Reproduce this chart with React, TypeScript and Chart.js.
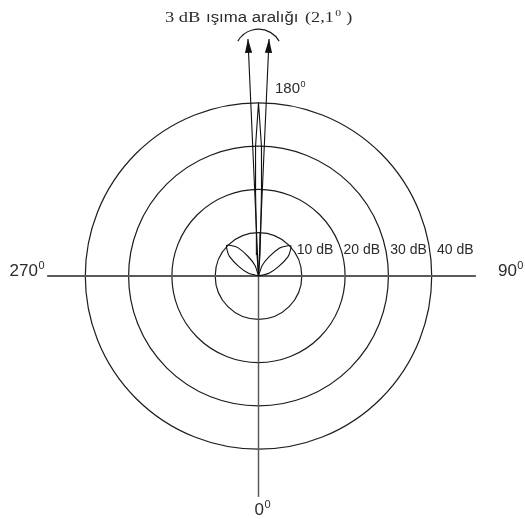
import React, { useEffect, useRef } from "react";
import { Chart, registerables } from "chart.js";

Chart.register(...registerables);

// Gain rings of the polar grid (dB) and their labels
const ringValues = [10, 20, 30, 40];
const ringLabels = ["10 dB", "20 dB", "30 dB", "40 dB"];

// Bearings marked round the plot (degrees)
const bearingValues = [0, 90, 180, 270];
const bearingLabels = ["0", "90", "180", "270"];

// Main lobe outline: bearing (deg) and level (dB)
const mainLobeAngles = [180, 184, 182.8, 182, 181.3, 180, 178.7, 178, 177.2, 176, 180];
const mainLobeDb = [0, 5, 10, 20, 30, 40, 30, 20, 10, 5, 0];

// Side lobes either side of the beam
const rightLobeAngles = [93, 105, 115, 123, 129, 133, 137, 143, 151, 161, 173];
const rightLobeDb = [0, 2.5, 5.1, 8.1, 9.5, 10.2, 9.5, 8.1, 5.1, 2.5, 0];
const leftLobeAngles = [186, 198, 208, 216, 222, 226, 230, 236, 244, 254, 266];
const leftLobeDb = [0, 2.5, 5.1, 8.1, 9.5, 10.2, 9.5, 8.1, 5.1, 2.5, 0];

// Half-power beam edges (deg) drawn as arrows, and how far they reach (dB units)
const beamEdgeAngles = [177.45, 182.55];
const beamArrowReach = 54.8;

// Caption over the beam
const captionLead = "3 dB";
const captionWords = "ışıma aralığı";
const captionValue = "(2,1";
const captionTail = " )";

const W = 525;
const H = 519;
const PX_PER_DB = 4.33;
const CX = 258.5;
const CY = 276;

const toXY = (angle: number, db: number) => {
  const t = (angle * Math.PI) / 180;
  return { x: db * Math.sin(t), y: -db * Math.cos(t) };
};

const outline = (angles: number[], dbs: number[]) =>
  angles.map((a, i) => toXY(a, dbs[i]));

const TEXT = "#2b2b2b";
const SANS = '"Liberation Sans", Arial, sans-serif';
const SERIF = '"Liberation Serif", "Times New Roman", serif';

function drawDegree(
  ctx: CanvasRenderingContext2D,
  text: string,
  x: number,
  baseline: number,
  size: number,
  align: "left" | "right"
) {
  ctx.font = `${size}px ${SANS}`;
  const mainW = ctx.measureText(text).width;
  const supSize = Math.round(size * 0.62);
  ctx.font = `${supSize}px ${SANS}`;
  const supW = ctx.measureText("0").width;
  const start = align === "left" ? x : x - mainW - supW - 1;
  ctx.textAlign = "left";
  ctx.textBaseline = "alphabetic";
  ctx.font = `${size}px ${SANS}`;
  ctx.fillText(text, start, baseline);
  ctx.font = `${supSize}px ${SANS}`;
  ctx.fillText("0", start + mainW + 0.5, baseline - size * 0.4);
}

function drawStretched(
  ctx: CanvasRenderingContext2D,
  text: string,
  x: number,
  baseline: number,
  font: string,
  sx: number
) {
  ctx.save();
  ctx.translate(x, baseline);
  ctx.scale(sx, 1);
  ctx.font = font;
  ctx.textAlign = "left";
  ctx.textBaseline = "alphabetic";
  ctx.fillText(text, 0, 0);
  const w = ctx.measureText(text).width * sx;
  ctx.restore();
  return w;
}

const polarFrame = {
  id: "polarFrame",
  beforeDatasetsDraw(chart: any) {
    const { ctx, scales } = chart;
    const xs = scales.x;
    const ys = scales.y;
    const ox = xs.getPixelForValue(0);
    const oy = ys.getPixelForValue(0);
    const len = (v: number) => xs.getPixelForValue(v) - ox;

    ctx.save();
    // gain rings
    ctx.strokeStyle = "#1c1c1c";
    ctx.lineWidth = 1.2;
    ringValues.forEach((v) => {
      ctx.beginPath();
      ctx.arc(ox, oy, len(v), 0, Math.PI * 2);
      ctx.stroke();
    });
    // 270-90 axis
    ctx.strokeStyle = "#5a5a5a";
    ctx.lineWidth = 2;
    ctx.beginPath();
    ctx.moveTo(xs.getPixelForValue(-48.8), oy);
    ctx.lineTo(xs.getPixelForValue(50.2), oy);
    ctx.stroke();
    // towards 0
    ctx.lineWidth = 1.5;
    ctx.beginPath();
    ctx.moveTo(ox, oy);
    ctx.lineTo(ox, ys.getPixelForValue(-51));
    ctx.stroke();
    ctx.restore();
  },
  afterDatasetsDraw(chart: any) {
    const { ctx, scales } = chart;
    const xs = scales.x;
    const ys = scales.y;
    const ox = xs.getPixelForValue(0);
    const oy = ys.getPixelForValue(0);
    const len = (v: number) => xs.getPixelForValue(v) - ox;

    ctx.save();
    // arrowheads on the beam-edge lines
    ctx.fillStyle = "#111";
    chart.data.datasets.forEach((ds: any, i: number) => {
      if (!ds.arrow) return;
      const pts = chart.getDatasetMeta(i).data;
      const a = pts[0];
      const b = pts[pts.length - 1];
      const ang = Math.atan2(b.y - a.y, b.x - a.x);
      const L = 14;
      const hw = 3.6;
      const bx = b.x - Math.cos(ang) * L;
      const by = b.y - Math.sin(ang) * L;
      ctx.beginPath();
      ctx.moveTo(b.x, b.y);
      ctx.lineTo(bx - Math.sin(ang) * hw, by + Math.cos(ang) * hw);
      ctx.lineTo(bx + Math.sin(ang) * hw, by - Math.cos(ang) * hw);
      ctx.closePath();
      ctx.fill();
    });

    // spread arc over the arrows
    ctx.strokeStyle = "#1c1c1c";
    ctx.lineWidth = 1.2;
    ctx.beginPath();
    ctx.arc(ox, ys.getPixelForValue(51.5), len(5.5), (7 * Math.PI) / 6, (11 * Math.PI) / 6);
    ctx.stroke();

    // ring labels
    ctx.fillStyle = TEXT;
    ctx.font = `14px ${SANS}`;
    ctx.textAlign = "left";
    ctx.textBaseline = "middle";
    ringValues.forEach((v, i) => {
      ctx.fillText(ringLabels[i], ox + len(v) * 1.08 - 8.5, ys.getPixelForValue(6));
    });

    // bearing labels
    bearingValues.forEach((b, i) => {
      const t = bearingLabels[i];
      if (b === 270) drawDegree(ctx, t, xs.getPixelForValue(-49.3), oy, 17, "right");
      if (b === 90) drawDegree(ctx, t, xs.getPixelForValue(55.3), oy, 17, "left");
      if (b === 180) drawDegree(ctx, t, ox + 16.5, ys.getPixelForValue(42.2), 15, "left");
      if (b === 0) drawDegree(ctx, t, ox - 4, ys.getPixelForValue(-55.2), 17, "left");
    });

    // caption
    const base = 22;
    drawStretched(ctx, captionLead, 165, base, `14px ${SERIF}`, 1.32);
    drawStretched(ctx, captionWords, 206, base, `14px ${SANS}`, 1.2);
    const w = drawStretched(ctx, captionValue, 305, base, `14px ${SERIF}`, 1.3);
    drawStretched(ctx, "0", 305 + w + 1.5, base - 6, `9px ${SERIF}`, 1.3);
    drawStretched(ctx, captionTail, 305 + w + 8, base, `14px ${SERIF}`, 1.3);
    ctx.restore();
  },
};

export default function App() {
  const ref = useRef<HTMLCanvasElement | null>(null);

  useEffect(() => {
    if (!ref.current) return;
    const line = {
      showLine: true,
      pointRadius: 0,
      borderColor: "#111",
      borderWidth: 1.1,
      fill: false,
    };
    const chart = new Chart(ref.current, {
      type: "scatter",
      data: {
        datasets: [
          { ...line, data: outline(mainLobeAngles, mainLobeDb), tension: 0 },
          { ...line, data: outline(rightLobeAngles, rightLobeDb), tension: 0.2 },
          { ...line, data: outline(leftLobeAngles, leftLobeDb), tension: 0.2 },
          ...beamEdgeAngles.map((a) => ({
            ...line,
            arrow: true,
            data: [toXY(a, 0), toXY(a, beamArrowReach)],
            tension: 0,
          })),
        ] as any,
      },
      options: {
        responsive: false,
        animation: false,
        devicePixelRatio: 1,
        events: [],
        layout: { padding: 0, autoPadding: false } as any,
        plugins: {
          legend: { display: false },
          tooltip: { enabled: false },
          title: { display: false },
        },
        scales: {
          x: { type: "linear", display: false, min: -CX / PX_PER_DB, max: (W - CX) / PX_PER_DB },
          y: { type: "linear", display: false, min: -(H - CY) / PX_PER_DB, max: CY / PX_PER_DB },
        },
      },
      plugins: [polarFrame],
    });
    return () => chart.destroy();
  }, []);

  return (
    <div style={{ position: "fixed", left: 0, top: 0, width: W, height: H, background: "#fff" }}>
      <canvas ref={ref} width={W} height={H} style={{ display: "block" }} />
    </div>
  );
}
